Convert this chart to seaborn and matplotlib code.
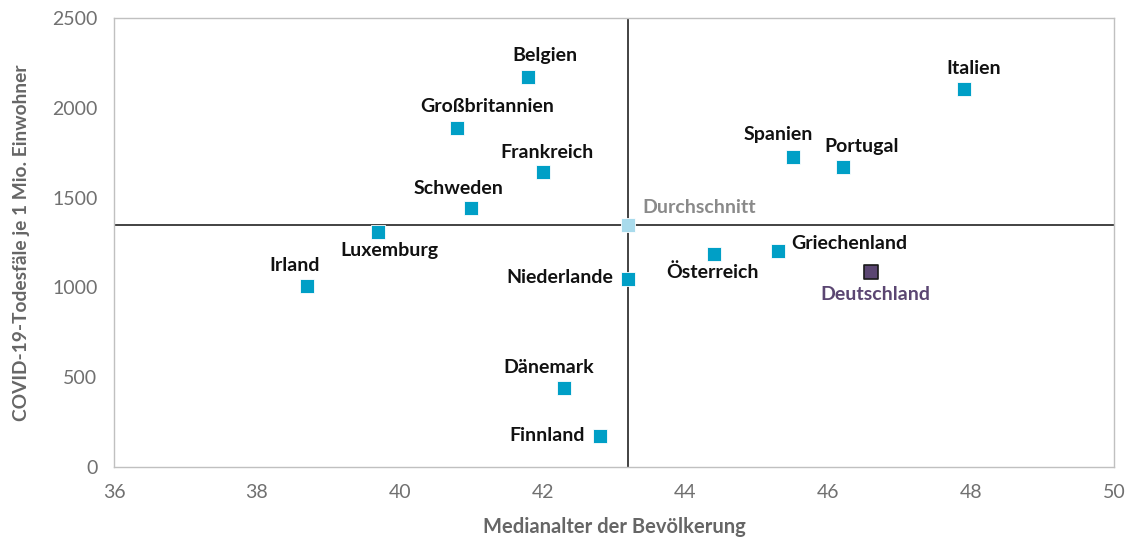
import matplotlib
matplotlib.use("Agg")
import matplotlib.pyplot as plt
import seaborn as sns
import pandas as pd

countries = ["Belgien", "Großbritannien", "Frankreich", "Schweden", "Luxemburg",
             "Irland", "Niederlande", "Dänemark", "Finnland", "Österreich",
             "Griechenland", "Spanien", "Portugal", "Italien", "Deutschland",
             "Durchschnitt"]
median_age = [41.8, 40.8, 42.0, 41.0, 39.7, 38.7, 43.2, 42.3, 42.8, 44.4,
              45.3, 45.5, 46.2, 47.9, 46.6, 43.2]
deaths = [2170, 1890, 1642, 1442, 1308, 1008, 1047, 440, 173, 1186,
          1203, 1726, 1670, 2105, 1086, 1345]
group = ["Land"] * 14 + ["Deutschland", "Durchschnitt"]

avg_age = 43.2
avg_deaths = 1345

# label offsets in points (dx, dy, ha)
label_pos = {
    "Belgien": (12, 16, "center"), "Großbritannien": (22, 15, "center"),
    "Frankreich": (3, 14, "center"), "Schweden": (-9, 14, "center"),
    "Luxemburg": (8, -13, "center"), "Irland": (-9, 15, "center"),
    "Niederlande": (-11, 1, "right"), "Dänemark": (-11, 15, "center"),
    "Finnland": (-11, 0, "right"), "Österreich": (-1, -13, "center"),
    "Griechenland": (9, 5, "left"), "Spanien": (-10, 16, "center"),
    "Portugal": (14, 15, "center"), "Italien": (7, 15, "center"),
    "Deutschland": (3, -16, "center"), "Durchschnitt": (10, 13, "left"),
}

df = pd.DataFrame({"Land": countries, "Alter": median_age,
                   "Tote": deaths, "Gruppe": group})

sns.set_style("white")
plt.rcParams["font.family"] = ["Lato", "DejaVu Sans"]

fig = plt.figure(figsize=(11.37, 5.41), dpi=100)
ax = fig.add_axes([0.1003, 0.1368, 0.8795, 0.8299])

ax.axvline(avg_age, color="#222222", lw=1.2, zorder=1)
ax.axhline(avg_deaths, color="#222222", lw=1.2, zorder=1)

palette = {"Land": "#009fc6", "Deutschland": "#5b4672", "Durchschnitt": "#a9dbec"}
sns.scatterplot(data=df[df.Gruppe != "Deutschland"], x="Alter", y="Tote",
                hue="Gruppe", palette=palette, marker="s", s=100,
                edgecolor="white", linewidth=0.6, legend=False, ax=ax, zorder=3)
sns.scatterplot(data=df[df.Gruppe == "Deutschland"], x="Alter", y="Tote",
                hue="Gruppe", palette=palette, marker="s", s=100,
                edgecolor="#1a1a1a", linewidth=1.2, legend=False, ax=ax, zorder=3)

for _, r in df.iterrows():
    dx, dy, ha = label_pos[r.Land]
    col = "#111111"
    if r.Land == "Deutschland":
        col = "#5b4672"
    elif r.Land == "Durchschnitt":
        col = "#8a8a8a"
    ax.annotate(r.Land, (r.Alter, r.Tote), xytext=(dx, dy),
                textcoords="offset points", ha=ha, va="center",
                fontsize=14, fontweight="bold", color=col, zorder=4)

ax.set_xlim(36, 50)
ax.set_ylim(0, 2500)
ax.set_xticks(range(36, 51, 2))
ax.set_yticks(range(0, 2501, 500))
ax.tick_params(axis="y", length=0, labelsize=14, labelcolor="#707070", pad=12)
ax.tick_params(axis="x", length=0, labelsize=14, labelcolor="#707070", pad=12)
ax.set_xlabel("Medianalter der Bevölkerung", fontsize=14.5, fontweight="bold",
              color="#666666", labelpad=12)
ax.set_ylabel("COVID-19-Todesfäle je 1 Mio. Einwohner", fontsize=13.8,
              fontweight="bold", color="#666666", labelpad=16)
for sp in ax.spines.values():
    sp.set_color("#c0c0c0")
    sp.set_linewidth(1.0)
    sp.set_visible(True)

fig.savefig("out.png", dpi=100)
